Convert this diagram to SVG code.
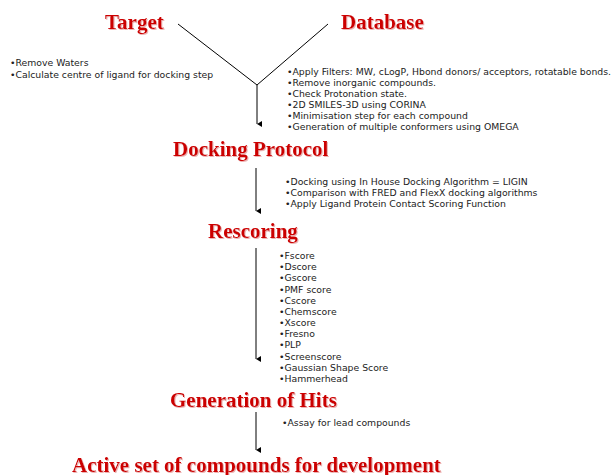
<svg xmlns="http://www.w3.org/2000/svg" width="615" height="475" viewBox="0 0 615 475">
<style>
.title{font-family:"Liberation Serif","Times New Roman",serif;font-weight:bold;font-size:21px;fill:#cc0000;filter:url(#sh)}
.note{font-family:"DejaVu Sans",Verdana,sans-serif;font-size:9.3px;fill:#222}
.conn{stroke:#000;stroke-width:1;fill:none}
</style>
<defs>
<filter id="sh" x="-5%" y="-20%" width="110%" height="140%">
<feDropShadow dx="1" dy="1" stdDeviation="0.3" flood-color="#e8a0a0" flood-opacity="0.8"/>
</filter>
<marker id="ah" viewBox="0 0 6 5" refX="3" refY="5" markerWidth="6" markerHeight="5" markerUnits="userSpaceOnUse" orient="auto-start-reverse">
<path d="M0,0 L6,0 L3,5 Z" fill="#000"/>
</marker>
</defs>
<rect width="615" height="475" fill="#fff"/>
<g id="connectors">
<line class="conn" x1="178" y1="24" x2="257" y2="85"/>
<line class="conn" x1="328" y1="24" x2="257" y2="85"/>
<line class="conn" x1="257" y1="85" x2="257" y2="124" marker-end="url(#ah)"/>
<line class="conn" x1="256" y1="168" x2="256" y2="211" marker-end="url(#ah)"/>
<line class="conn" x1="256" y1="248" x2="256" y2="359" marker-end="url(#ah)"/>
<line class="conn" x1="256" y1="412" x2="256" y2="450" marker-end="url(#ah)"/>
</g>
<g id="target">
<text class="title" x="105" y="29">Target</text>
</g>
<g id="database">
<text class="title" x="341" y="29">Database</text>
</g>
<g id="target-notes">
<text class="note" x="10" y="66">•Remove Waters</text>
<text class="note" x="10" y="78">•Calculate centre of ligand for docking step</text>
</g>
<g id="database-notes">
<text class="note" x="287" y="75">•Apply Filters: MW, cLogP, Hbond donors/ acceptors, rotatable bonds.</text>
<text class="note" x="287" y="86">•Remove inorganic compounds.</text>
<text class="note" x="287" y="97">•Check Protonation state.</text>
<text class="note" x="287" y="108">•2D SMILES-3D using CORINA</text>
<text class="note" x="287" y="119">•Minimisation step for each compound</text>
<text class="note" x="287" y="130">•Generation of multiple conformers using OMEGA</text>
</g>
<g id="docking">
<text class="title" x="173" y="156">Docking Protocol</text>
</g>
<g id="docking-notes">
<text class="note" x="285" y="185">•Docking using In House Docking Algorithm = LIGIN</text>
<text class="note" x="285" y="196">•Comparison with FRED and FlexX docking algorithms</text>
<text class="note" x="285" y="207">•Apply Ligand Protein Contact Scoring Function</text>
</g>
<g id="rescoring">
<text class="title" x="208" y="238">Rescoring</text>
</g>
<g id="rescoring-notes">
<text class="note" x="279" y="259">•Fscore</text>
<text class="note" x="279" y="270.2">•Dscore</text>
<text class="note" x="279" y="281.4">•Gscore</text>
<text class="note" x="279" y="292.5">•PMF score</text>
<text class="note" x="279" y="303.7">•Cscore</text>
<text class="note" x="279" y="314.9">•Chemscore</text>
<text class="note" x="279" y="326.1">•Xscore</text>
<text class="note" x="279" y="337.3">•Fresno</text>
<text class="note" x="279" y="348.4">•PLP</text>
<text class="note" x="279" y="359.6">•Screenscore</text>
<text class="note" x="279" y="370.8">•Gaussian Shape Score</text>
<text class="note" x="279" y="382">•Hammerhead</text>
</g>
<g id="hits">
<text class="title" x="170" y="407">Generation of Hits</text>
</g>
<g id="hits-notes">
<text class="note" x="282" y="426">•Assay for lead compounds</text>
</g>
<g id="active">
<text class="title" x="72" y="472">Active set of compounds for development</text>
</g>
</svg>
